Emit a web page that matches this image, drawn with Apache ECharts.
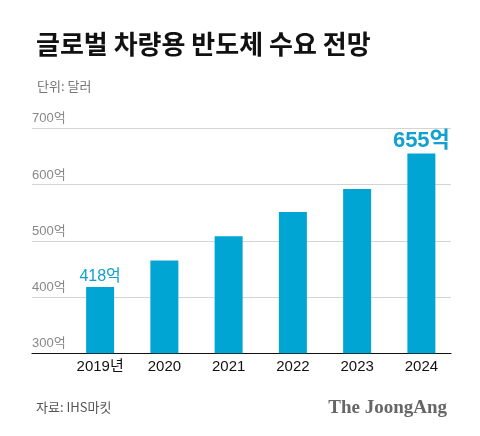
<!DOCTYPE html>
<html><head><meta charset="utf-8">
<script src="https://cdn.jsdelivr.net/npm/echarts@6/dist/echarts.min.js"></script>
<style>html,body{margin:0;padding:0;background:#fff}#c{width:480px;height:436px}</style>
</head><body><div id="c"></div>
<script>
const categories = ['2019년', '2020', '2021', '2022', '2023', '2024'];
const demand = [418, 465, 508, 551, 592, 655];
const yTicks = [300, 400, 500, 600, 700];
const labelled = { 0: '418억', 5: '655억' };

const FONT = '"Noto Sans CJK KR", "Noto Sans", sans-serif';
const NUMFONT = '"Liberation Sans", "Noto Sans CJK KR", sans-serif';
const chart = echarts.init(document.getElementById('c'));
chart.setOption({
  backgroundColor: '#fff',
  animation: false,
  title: [
    { text: '글로벌 차량용 반도체 수요 전망', left: 31, top: 26,
      textStyle: { fontFamily: FONT, fontSize: 26, fontWeight: 'bold', color: '#111' } },
    { text: '단위: 달러', left: 32, top: 75,
      textStyle: { fontFamily: FONT, fontSize: 13, fontWeight: 'normal', color: '#777' } },
    { text: '자료: IHS마킷', left: 31, top: 396,
      textStyle: { fontFamily: FONT, fontSize: 13, fontWeight: 'normal', color: '#555' } },
    { text: 'The JoongAng', right: 28, top: 394,
      textStyle: { fontFamily: '"Liberation Serif", "DejaVu Serif", serif', fontSize: 19, fontWeight: 'bold', color: '#666' } }
  ],
  grid: [
    { left: 68, right: 26.5, top: 128.3, bottom: 82.7 },
    { left: 32, right: 29, top: 128.3, bottom: 82.7 }
  ],
  xAxis: [
    { type: 'category', gridIndex: 0, data: categories,
      axisLine: { show: false }, axisTick: { show: false },
      axisLabel: { margin: 6, fontFamily: NUMFONT, fontSize: 15, color: '#111' } },
    { type: 'value', gridIndex: 1, min: 0, max: 1,
      axisLine: { show: true, onZero: false, lineStyle: { color: '#111', width: 1.2 } },
      axisTick: { show: false }, axisLabel: { show: false }, splitLine: { show: false } }
  ],
  yAxis: [
    { type: 'value', gridIndex: 0, min: 300, max: 700, interval: 100,
      show: false, splitLine: { show: false } },
    { type: 'value', gridIndex: 1, min: 300, max: 700, interval: 100,
      axisLine: { show: false }, axisTick: { show: false },
      splitLine: { show: true, lineStyle: { color: '#d4d4d4', width: 1 } },
      axisLabel: { inside: true, margin: 0, align: 'left', verticalAlign: 'bottom',
        padding: [0, 0, 3, 0], fontFamily: NUMFONT, fontSize: 13, color: '#888',
        formatter: v => yTicks.includes(v) ? v + '억' : '' } }
  ],
  series: [
    { type: 'bar', xAxisIndex: 0, yAxisIndex: 0, barWidth: 28,
      itemStyle: { color: '#00a5d3' },
      data: demand.map((v, i) => {
        const d = { value: v };
        if (labelled[i] !== undefined) {
          d.label = { show: true, position: 'top', distance: 2, formatter: labelled[i],
            fontFamily: NUMFONT, color: '#12a0cf',
            fontSize: i === 5 ? 22 : 16, fontWeight: i === 5 ? 'bold' : 'normal' };
        }
        return d;
      }) }
  ]
});
</script></body></html>
